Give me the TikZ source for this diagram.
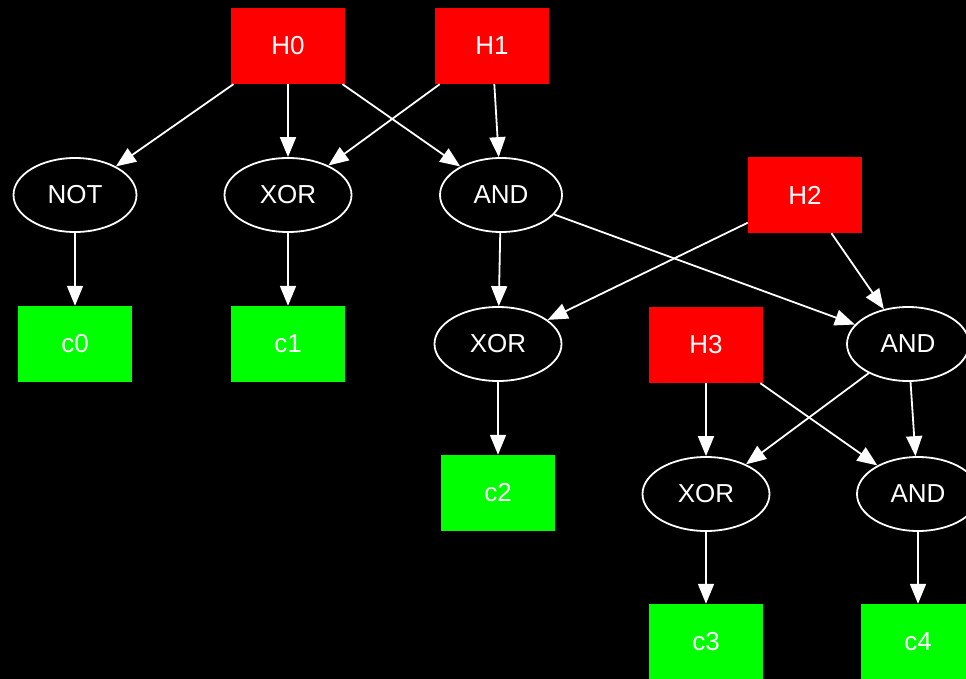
\documentclass[tikz,border=0pt]{standalone}
\usepackage{fontspec}
\setmainfont{Liberation Sans}
\usetikzlibrary{shapes.geometric,arrows.meta}
\definecolor{inred}{RGB}{255,0,0}
\definecolor{outgreen}{RGB}{0,255,0}
\tikzset{
  gatebase/.style={font=\fontsize{26}{30}\selectfont, text=white, inner sep=0pt},
  inbox/.style={gatebase, rectangle, fill=inred, minimum width=114pt, minimum height=76pt},
  outbox/.style={gatebase, rectangle, fill=outgreen, minimum width=114pt, minimum height=76pt},
  gate/.style={gatebase, ellipse, draw=white, line width=1.8pt, fill=black,
               minimum width=125pt, minimum height=74pt},
  wire/.style={draw=white, line width=1.8pt,
               -{Triangle[length=20pt, width=16pt, fill=white]}}
}
\begin{document}
\begin{tikzpicture}[x=1pt, y=-1pt]
  % canvas
  \fill[black] (0,0) rectangle (966,679);
  \useasboundingbox (0,0) rectangle (966,679);
  \clip (0,0) rectangle (966,679);

  % inputs
  \node[inbox] (h0) at (288,46) {H0};
  \node[inbox] (h1) at (492,46) {H1};
  \node[inbox] (h2) at (805,195) {H2};
  \node[inbox] (h3) at (706,345) {H3};

  % gates
  \node[gate, minimum width=123pt] (not0) at (75,195) {NOT};
  \node[gate, minimum width=127pt] (xor1) at (288,195) {XOR};
  \node[gate, minimum width=122pt] (and1) at (501,195) {AND};
  \node[gate, minimum width=127pt] (xor2) at (498,344) {XOR};
  \node[gate, minimum width=122pt] (and2) at (908,344) {AND};
  \node[gate, minimum width=127pt] (xor3) at (706,494) {XOR};
  \node[gate, minimum width=122pt] (and3) at (918,494) {AND};

  % outputs
  \node[outbox] (c0) at (75,344) {c0};
  \node[outbox] (c1) at (288,344) {c1};
  \node[outbox] (c2) at (498,493) {c2};
  \node[outbox] (c3) at (706,642) {c3};
  \node[outbox] (c4) at (918,642) {c4};

  % connections
  \draw[wire] (h0) -- (not0);
  \draw[wire] (h0) -- (xor1);
  \draw[wire] (h0) -- (and1);
  \draw[wire] (h1) -- (xor1);
  \draw[wire] (h1) -- (and1);
  \draw[wire] (not0) -- (c0);
  \draw[wire] (xor1) -- (c1);
  \draw[wire] (and1) -- (xor2);
  \draw[wire] (and1) -- (and2);
  \draw[wire] (h2) -- (xor2);
  \draw[wire] (h2) -- (and2);
  \draw[wire] (xor2) -- (c2);
  \draw[wire] (h3) -- (xor3);
  \draw[wire] (h3) -- (and3);
  \draw[wire] (and2) -- (xor3);
  \draw[wire] (and2) -- (and3);
  \draw[wire] (xor3) -- (c3);
  \draw[wire] (and3) -- (c4);
\end{tikzpicture}
\end{document}
